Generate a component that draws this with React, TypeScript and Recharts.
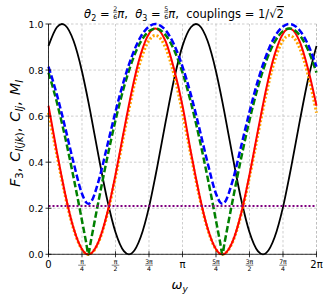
import React from 'react';
import { LineChart, Line, XAxis, YAxis, CartesianGrid } from 'recharts';

// omega_y sample positions (radians) (pattern repeats with period pi)
const omega = [
  0, 0.19635, 0.314, 0.3927, 0.58905, 0.7854, 0.885, 0.935, 0.98175, 1.1781, 1.37445,
  1.5708, 1.76715, 1.885, 1.9635, 2.15985, 2.3562, 2.505, 2.55255, 2.7489, 2.94525,
  3.14159, 3.33794, 3.45559, 3.53429, 3.73064, 3.92699, 4.02659, 4.07659, 4.12334, 4.31969, 4.51604,
  4.71239, 4.90874, 5.02659, 5.10509, 5.30144, 5.49779, 5.64659, 5.69414, 5.89049, 6.08684,
  6.28319,
];

const blackF3 = [
  0.905, 0.986, 1.0, 0.994, 0.926, 0.794, 0.708, 0.662, 0.617, 0.422, 0.239,
  0.096, 0.014, 0.0, 0.006, 0.074, 0.205, 0.338, 0.383, 0.578, 0.761,
  0.905, 0.986, 1.0, 0.994, 0.926, 0.794, 0.708, 0.662, 0.617, 0.422, 0.239,
  0.096, 0.014, 0.0, 0.006, 0.074, 0.205, 0.338, 0.383, 0.578, 0.761,
  0.905,
];

const redC = [
  0.645, 0.444, 0.332, 0.261, 0.113, 0.022, 0.002, 0.0, 0.002, 0.057, 0.177,
  0.346, 0.536, 0.648, 0.719, 0.867, 0.958, 0.98, 0.978, 0.923, 0.803,
  0.645, 0.444, 0.332, 0.261, 0.113, 0.022, 0.002, 0.0, 0.002, 0.057, 0.177,
  0.346, 0.536, 0.648, 0.719, 0.867, 0.958, 0.98, 0.978, 0.923, 0.803,
  0.645,
];

const orangeC = [
  0.615, 0.431, 0.322, 0.253, 0.109, 0.021, 0.002, 0.0, 0.002, 0.055, 0.172,
  0.335, 0.519, 0.628, 0.697, 0.841, 0.929, 0.95, 0.948, 0.895, 0.778,
  0.615, 0.431, 0.322, 0.253, 0.109, 0.021, 0.002, 0.0, 0.002, 0.055, 0.172,
  0.335, 0.519, 0.628, 0.697, 0.841, 0.929, 0.95, 0.948, 0.895, 0.778,
  0.615,
];

const greenC = [
  0.789, 0.66, 0.57, 0.506, 0.332, 0.146, 0.049, 0.0, 0.046, 0.236, 0.417,
  0.582, 0.725, 0.797, 0.84, 0.922, 0.969, 0.98, 0.979, 0.951, 0.887,
  0.789, 0.66, 0.57, 0.506, 0.332, 0.146, 0.049, 0.0, 0.046, 0.236, 0.417,
  0.582, 0.725, 0.797, 0.84, 0.922, 0.969, 0.98, 0.979, 0.951, 0.887,
  0.789,
];

const blueM = [
  0.815, 0.693, 0.609, 0.549, 0.397, 0.263, 0.225, 0.219, 0.224, 0.321, 0.469,
  0.619, 0.754, 0.823, 0.864, 0.944, 0.989, 1.0, 0.999, 0.972, 0.91,
  0.815, 0.693, 0.609, 0.549, 0.397, 0.263, 0.225, 0.219, 0.224, 0.321, 0.469,
  0.619, 0.754, 0.823, 0.864, 0.944, 0.989, 1.0, 0.999, 0.972, 0.91,
  0.815,
];

const purpleLevel = 0.21;

const PI = Math.PI;
const xTicks = [0, PI / 4, PI / 2, (3 * PI) / 4, PI, (5 * PI) / 4, (3 * PI) / 2, (7 * PI) / 4, 2 * PI];
const xTickLabels = ['0', 'π/4', 'π/2', '3π/4', 'π', '5π/4', '3π/2', '7π/4', '2π'];
const yTicks = [0, 0.2, 0.4, 0.6, 0.8, 1.0];

const data = omega.map((w, i) => ({
  w,
  black: blackF3[i],
  red: redC[i],
  orange: orangeC[i],
  green: greenC[i],
  blue: blueM[i],
  purple: purpleLevel,
}));

const FONT = "'DejaVu Sans', sans-serif";
const NB = '\u00A0';

function XTickBottom(props: any) {
  const { x, y, payload } = props;
  const i = xTicks.findIndex((t) => Math.abs(t - payload.value) < 1e-6);
  const lab = i >= 0 ? xTickLabels[i] : '';
  const parts = lab.split('/');
  return (
    <g>
      <line x1={x} x2={x} y1={y - 3} y2={y + 3} stroke="#000" strokeWidth={0.8} />
      {parts.length === 2 ? (
        <g fontFamily={FONT} fill="#000">
          <text x={x} y={y + 9.4} textAnchor="middle" fontSize={6.2}>{parts[0]}</text>
          <line x1={x - 3.8} x2={x + 3.8} y1={y + 10.9} y2={y + 10.9} stroke="#000" strokeWidth={0.5} />
          <text x={x} y={y + 17} textAnchor="middle" fontSize={6.2}>{parts[1]}</text>
        </g>
      ) : (
        <text x={x} y={y + 14} textAnchor="middle" fontSize={10} fontFamily={FONT} fill="#000">{lab}</text>
      )}
    </g>
  );
}

function XTickTop(props: any) {
  const { x, y } = props;
  return <line x1={x} x2={x} y1={y - 3} y2={y + 3} stroke="#000" strokeWidth={0.8} />;
}

function YTickLeft(props: any) {
  const { x, y, payload } = props;
  return (
    <g>
      <line x1={x - 3} x2={x + 3} y1={y} y2={y} stroke="#000" strokeWidth={0.8} />
      <text x={x - 5} y={y + 3.5} textAnchor="end" fontSize={9.5} fontFamily={FONT} fill="#000">
        {Number(payload.value).toFixed(1)}
      </text>
    </g>
  );
}

function YTickRight(props: any) {
  const { x, y } = props;
  return <line x1={x - 3} x2={x + 3} y1={y} y2={y} stroke="#000" strokeWidth={0.8} />;
}

export default function App() {
  const axisLine = { stroke: '#000', strokeWidth: 0.8 };
  return (
    <div style={{ position: 'absolute', left: 0, top: 0, width: 330, height: 300, background: '#fff' }}>
      <LineChart width={330} height={300} data={data} margin={{ top: 24, right: 13.5, bottom: 0, left: 0 }}>
        <CartesianGrid stroke="#b8b8b8" strokeDasharray="2.5 2" strokeWidth={0.7} />
        <XAxis
          dataKey="w"
          type="number"
          domain={[0, 2 * PI]}
          ticks={xTicks}
          interval={0}
          height={45.7}
          tickSize={0}
          tickMargin={0}
          tickLine={false}
          axisLine={axisLine}
          tick={XTickBottom}
          label={{
            content: () => (
              <text x={171.5} y={288.5} fontFamily={FONT} fill="#000">
                <tspan fontSize={13} fontStyle="italic">ω</tspan>
                <tspan fontSize={9} fontStyle="italic" dy={3}>y</tspan>
              </text>
            ),
          }}
        />
        <XAxis
          xAxisId="top"
          orientation="top"
          dataKey="w"
          type="number"
          domain={[0, 2 * PI]}
          ticks={xTicks}
          interval={0}
          height={0}
          tickSize={0}
          tickMargin={0}
          tickLine={false}
          axisLine={axisLine}
          tick={XTickTop}
        />
        <YAxis
          type="number"
          domain={[0, 1]}
          ticks={yTicks}
          interval={0}
          width={48.5}
          tickSize={0}
          tickMargin={0}
          tickLine={false}
          axisLine={axisLine}
          tick={YTickLeft}
          label={{
            content: () => (
              <text
                transform="translate(19.5,133.5) rotate(-90)"
                textAnchor="middle"
                fontFamily={FONT}
                fontSize={14.5}
                fill="#000"
              >
                <tspan fontStyle="italic">F</tspan>
                <tspan fontSize={10} dy={3}>3</tspan>
                <tspan dy={-3}>, </tspan>
                <tspan dx={1.5} fontStyle="italic">C</tspan>
                <tspan fontSize={10} dy={3}>
                  <tspan fontStyle="italic">l</tspan>(<tspan fontStyle="italic">jk</tspan>)
                </tspan>
                <tspan dy={-3}>, </tspan>
                <tspan dx={1.5} fontStyle="italic">C</tspan>
                <tspan fontSize={10} fontStyle="italic" dy={3}>lj</tspan>
                <tspan dy={-3}>, </tspan>
                <tspan dx={1.5} fontStyle="italic">M</tspan>
                <tspan fontSize={10} fontStyle="italic" dy={3}>l</tspan>
              </text>
            ),
          }}
        />
        <YAxis
          yAxisId="right"
          orientation="right"
          type="number"
          domain={[0, 1]}
          ticks={yTicks}
          interval={0}
          width={0}
          tickSize={0}
          tickMargin={0}
          tickLine={false}
          axisLine={axisLine}
          tick={YTickRight}
        />
        <Line dataKey="black" type="monotone" stroke="#000000" strokeWidth={1.8} dot={false} activeDot={false} isAnimationActive={false} />
        <Line dataKey="orange" type="monotone" stroke="#ffa500" strokeWidth={3} strokeDasharray="2 2" dot={false} activeDot={false} isAnimationActive={false} />
        <Line dataKey="red" type="monotone" stroke="#ff0000" strokeWidth={2} dot={false} activeDot={false} isAnimationActive={false} />
        <Line dataKey="green" type="monotone" stroke="#008000" strokeWidth={2.5} strokeDasharray="6.5 2.8" dot={false} activeDot={false} isAnimationActive={false} />
        <Line dataKey="blue" type="monotone" stroke="#0000ff" strokeWidth={2.5} strokeDasharray="6.5 2.8" dot={false} activeDot={false} isAnimationActive={false} />
        <Line dataKey="purple" type="linear" stroke="#800080" strokeWidth={2} strokeDasharray="2 2" dot={false} activeDot={false} isAnimationActive={false} />
      </LineChart>
      <svg
        width={330}
        height={300}
        style={{ position: 'absolute', left: 0, top: 0, pointerEvents: 'none' }}
        fontFamily={FONT}
        fill="#000"
      >
        <text x={184} y={18} fontSize={11.5} textAnchor="middle">
          <tspan fontStyle="italic">θ</tspan>
          <tspan fontSize={8} dy={2.5}>2</tspan>
          <tspan dy={-2.5}>{`${NB}=${NB}`}</tspan>
          <tspan fontSize={6.3} dy={-7.2} textDecoration="underline">2</tspan>
          <tspan fontSize={6.3} dx={-4.0} dy={7.8}>6</tspan>
          <tspan fontStyle="italic" dy={-0.6}>π</tspan>
          <tspan>{`,${NB}${NB}`}</tspan>
          <tspan fontStyle="italic">θ</tspan>
          <tspan fontSize={8} dy={2.5}>3</tspan>
          <tspan dy={-2.5}>{`${NB}=${NB}`}</tspan>
          <tspan fontSize={6.3} dy={-7.2} textDecoration="underline">5</tspan>
          <tspan fontSize={6.3} dx={-4.0} dy={7.8}>6</tspan>
          <tspan fontStyle="italic" dy={-0.6}>π</tspan>
          <tspan>{`,${NB}${NB}couplings${NB}=${NB}1/√`}</tspan>
          <tspan textDecoration="overline">2</tspan>
        </text>
      </svg>
    </div>
  );
}
